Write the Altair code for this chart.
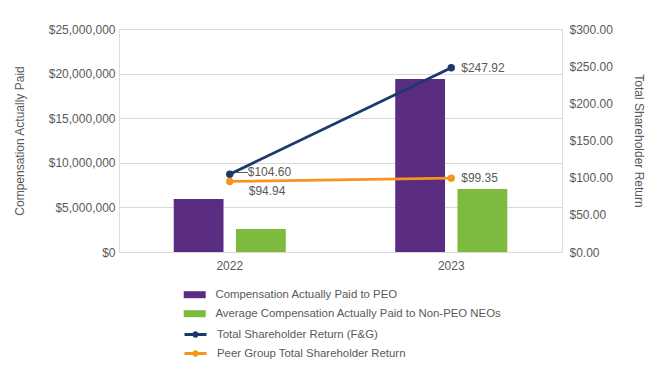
import altair as alt
import pandas as pd

years = ["2022", "2023"]
peo_cap = [5940000, 19400000]
neo_cap = [2580000, 7060000]
tsr_fg = [104.60, 247.92]
tsr_peer = [94.94, 99.35]

bar_series = ["Compensation Actually Paid to PEO",
              "Average Compensation Actually Paid to Non-PEO NEOs"]
line_series = ["Total Shareholder Return (F&G)",
               "Peer Group Total Shareholder Return"]

bars_df = pd.DataFrame(
    [{"year": y, "series": bar_series[0], "value": v} for y, v in zip(years, peo_cap)]
    + [{"year": y, "series": bar_series[1], "value": v} for y, v in zip(years, neo_cap)]
)
lines_df = pd.DataFrame(
    [{"year": y, "series": line_series[0], "value": v} for y, v in zip(years, tsr_fg)]
    + [{"year": y, "series": line_series[1], "value": v} for y, v in zip(years, tsr_peer)]
)

FONT = "Liberation Sans"
GRAY = "#595959"
bar_colors = ["#5A2D82", "#7DBB3E"]
line_colors = ["#1B3A6B", "#F6941E"]
LEG_FS = 11.4

x_enc = alt.X("year:N", title=None, sort=years,
              scale=alt.Scale(paddingInner=0.494, paddingOuter=0.247),
              axis=alt.Axis(labelAngle=0, ticks=False, domain=False, labelPadding=8,
                            labelFontSize=12, labelColor=GRAY, labelFont=FONT))

bars = alt.Chart(bars_df).mark_bar().encode(
    x=x_enc,
    xOffset=alt.XOffset("series:N", sort=bar_series,
                        scale=alt.Scale(paddingInner=0.2, paddingOuter=0)),
    y=alt.Y("value:Q", title="Compensation Actually Paid",
            scale=alt.Scale(domain=[0, 25000000]),
            axis=alt.Axis(values=[0, 5000000, 10000000, 15000000, 20000000, 25000000],
                          format="$,.0f", domain=False, ticks=False, labelPadding=4,
                          gridColor="#d9d9d9", labelFontSize=12, labelColor=GRAY,
                          labelFont=FONT, titleFont=FONT, titleFontSize=12,
                          titleFontWeight="normal", titleColor=GRAY, titlePadding=22)),
    fill=alt.Fill("series:N", sort=bar_series,
                  scale=alt.Scale(domain=bar_series, range=bar_colors),
                  legend=alt.Legend(title=None, orient="none", legendX=70, legendY=260,
                                    symbolType="M-2.2,-0.7L2.2,-0.7L2.2,0.7L-2.2,0.7Z",
                                    symbolSize=100, symbolStrokeWidth=0,
                                    labelOffset=15, rowPadding=6, padding=0, labelLimit=0,
                                    labelFontSize=LEG_FS, labelColor=GRAY, labelFont=FONT)),
)

y_right = alt.Y("value:Q", title="Total Shareholder Return",
                scale=alt.Scale(domain=[0, 300]),
                axis=alt.Axis(orient="right", values=[0, 50, 100, 150, 200, 250, 300],
                              format="$,.2f", grid=False, domain=False, ticks=False,
                              labelPadding=7, labelFontSize=12, labelColor=GRAY,
                              labelFont=FONT, titleFont=FONT, titleFontSize=12,
                              titleFontWeight="normal", titleColor=GRAY, titlePadding=19))

line = alt.Chart().mark_line(strokeWidth=2.75).encode(
    stroke=alt.Stroke("series:N", sort=line_series,
                      scale=alt.Scale(domain=line_series, range=line_colors),
                      legend=alt.Legend(title=None, orient="none", legendX=70, legendY=299,
                                        symbolType="M-2.2,0L2.2,0M-0.35,0A0.35,0.35 0 1,0 0.35,0A0.35,0.35 0 1,0 -0.35,0",
                                        symbolSize=100, symbolStrokeWidth=3,
                                        labelOffset=15, rowPadding=2, padding=0, labelLimit=0,
                                        labelFontSize=LEG_FS, labelColor=GRAY, labelFont=FONT)),
    detail="series:N",
)
points = alt.Chart().mark_point(filled=True, size=55, opacity=1).encode(
    fill=alt.Fill("series:N", sort=line_series,
                  scale=alt.Scale(domain=line_series, range=line_colors), legend=None),
)

def label_layer(year, series, dx, dy, prefix=""):
    return alt.Chart().transform_filter(
        (alt.datum.year == year) & (alt.datum.series == series)
    ).transform_calculate(
        label="'" + prefix + "' + format(datum.value, '$.2f')"
    ).mark_text(align="left", baseline="middle", dx=dx, dy=dy, fontSize=12,
                color=GRAY, font=FONT).encode(text="label:N")

labels = [
    label_layer("2022", line_series[0], 6, -2, "\u2014"),
    label_layer("2022", line_series[1], 19, 10),
    label_layer("2023", line_series[0], 10, 0),
    label_layer("2023", line_series[1], 10, 0),
]

lines_layer = alt.layer(line, points, *labels, data=lines_df).encode(x=x_enc, y=y_right)

chart = alt.layer(bars, lines_layer).resolve_scale(
    y="independent", fill="independent"
).properties(width=443, height=223, padding={"left": 5, "top": 15, "right": 0, "bottom": 0}).configure_view(
    stroke=None
).configure(font=FONT)

chart.save("out.html", embed_options={"renderer": "svg", "actions": False})
